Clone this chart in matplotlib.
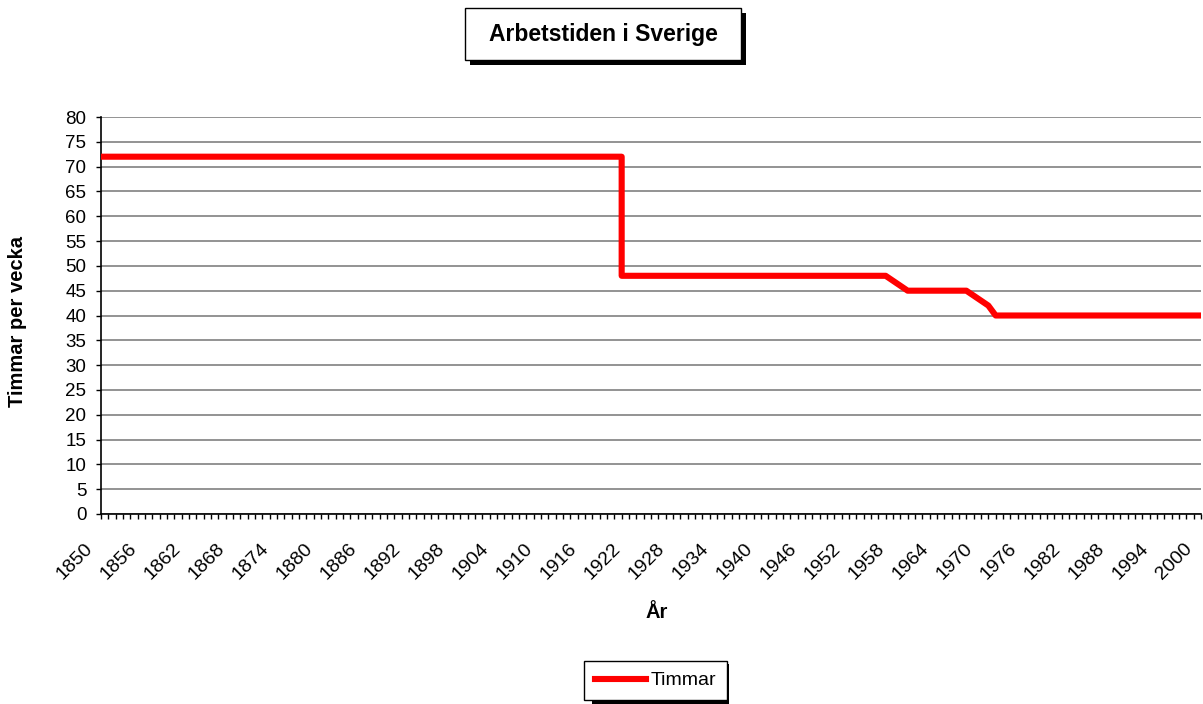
import matplotlib
matplotlib.use("Agg")
import matplotlib.pyplot as plt
from matplotlib.patches import Rectangle
from matplotlib.ticker import MultipleLocator
from matplotlib.transforms import ScaledTranslation

plt.rcParams['font.family'] = ['Liberation Sans', 'DejaVu Sans']

# arbetstid per vecka
years = [1850, 1921, 1921, 1957, 1958, 1959, 1960, 1968, 1970, 1971, 1972, 2000]
hours = [72, 72, 48, 48, 47, 46, 45, 45, 43, 42, 40, 40]
tick_years = list(range(1850, 2001, 6))

W, H = 1203, 704
fig = plt.figure(figsize=(W / 100, H / 100), dpi=100)


def fx(x):
    return x / W


def fy(y):
    return 1 - y / H


ax = fig.add_axes([fx(101), fy(514), fx(1201) - fx(101), fy(117) - fy(514)])
line, = ax.plot(years, hours, color='#ff0000', lw=4.4, label='Timmar', zorder=3)

ax.set_xlim(1850, 2000)
ax.set_ylim(0, 80)
ax.yaxis.set_major_locator(MultipleLocator(5))
ax.set_xticks(tick_years)
ax.set_xticklabels([str(y) for y in tick_years], rotation=45, ha='right', va='baseline',
                   rotation_mode='anchor', fontsize=14)
ax.xaxis.set_minor_locator(MultipleLocator(1))
ax.tick_params(axis='x', which='both', direction='out', length=3.6, width=1, pad=0)
ax.tick_params(axis='y', direction='out', length=3.6, width=1, labelsize=13.5, pad=7)
ax.grid(axis='y', color='#808080', lw=1.2)
ax.set_axisbelow(True)
for s in ['top', 'right']:
    ax.spines[s].set_visible(False)
ax.spines['left'].set_linewidth(1.2)
ax.spines['bottom'].set_linewidth(1.2)

fig.text(fx(18), fy(321), 'Timmar per vecka', rotation=90, ha='center', va='center',
         fontsize=14.5, fontweight='bold')
fig.text(fx(657), fy(612), 'År', ha='center', va='center', fontsize=14.5, fontweight='bold')

# titelruta med skugga
fig.add_artist(Rectangle((fx(470), fy(65)), fx(746) - fx(470), fy(13) - fy(65),
                         transform=fig.transFigure, fc='black', ec='none'))
fig.add_artist(Rectangle((fx(465), fy(60)), fx(741) - fx(465), fy(8) - fy(60),
                         transform=fig.transFigure, fc='white', ec='black', lw=1))
fig.text(fx(603), fy(34), 'Arbetstiden i Sverige', ha='center', va='center',
         fontsize=16.5, fontweight='bold')

# förklaring
fig.add_artist(Rectangle((fx(592), fy(707)), fx(729) - fx(592), fy(664) - fy(707),
                         transform=fig.transFigure, fc='black', ec='none'))
leg = fig.legend(handles=[line], loc='center', bbox_to_anchor=(fx(655.5), fy(680.5)),
                 frameon=True, fancybox=False, edgecolor='black', framealpha=1,
                 fontsize=14, handlelength=2.6, handletextpad=0.25, borderpad=0.55,
                 borderaxespad=0)
leg.get_frame().set_linewidth(1)

# flytta årtalen så att de slutar strax under och till vänster om strecket
fig.canvas.draw()
shift = ScaledTranslation(-0.08, -0.30, fig.dpi_scale_trans)
for lbl in ax.get_xticklabels():
    lbl.set_transform(lbl.get_transform() + shift)

fig.savefig('out.png', dpi=100)
